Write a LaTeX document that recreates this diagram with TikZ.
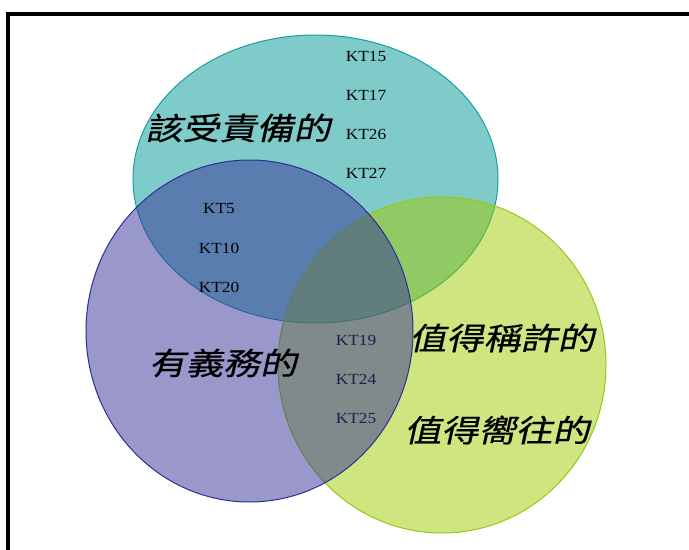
\documentclass[tikz,border=0pt]{standalone}
\usepackage{fontspec}
\setmainfont[FakeStretch=1.12]{Liberation Serif}
\newfontfamily\cjk[FakeSlant=0.22,FakeStretch=1.2,FakeBold=0.6]{Noto Sans CJK TC}
\definecolor{tealfill}{RGB}{0,151,147}
\definecolor{tealline}{RGB}{20,160,160}
\definecolor{purplefill}{RGB}{53,49,151}
\definecolor{purpleline}{RGB}{45,45,150}
\definecolor{greenfill}{RGB}{159,203,0}
\definecolor{greenline}{RGB}{150,200,20}
\definecolor{kthidden}{RGB}{30,30,75}

\begin{document}
\begin{tikzpicture}[x=1bp, y=-1bp]
	\tikzstyle{every node}=[inner sep=0pt]
	\tikzset{kt/.style={font=\fontsize{15.5}{16}\selectfont},
		word/.style={font=\cjk\fontsize{31}{32}\selectfont}}

	\useasboundingbox (0,0) rectangle (689,550);
	\clip (0,0) rectangle (689,550);

	%frame
	\draw[line width=3.5] (8,14) rectangle (720,580);

	%sets
	\draw[line width=1, tealline, fill=tealfill, fill opacity=0.5] (315.5,179) ellipse [x radius=182.5, y radius=144];
	\draw[line width=1, greenline, fill=greenfill, fill opacity=0.5] (442,365) ellipse [x radius=164, y radius=168];
	\draw[line width=1, purpleline, fill=purplefill, fill opacity=0.5] (249.5,331) ellipse [x radius=163.5, y radius=171];

	%names
	\node[word] (blame) at (238,128) {該受責備的};
	\node[word] (duty) at (223,363) {有義務的};
	\node[word] (praise) at (502,338) {值得稱許的};
	\node[word] (desire) at (497,430) {值得嚮往的};

	%items
	\foreach \k [count=\i from 0] in {15,17,26,27}
		\node[kt] (kt\k) at (366,{56+39*\i}) {KT\k};
	\foreach \k [count=\i from 0] in {5,10,20}
		\node[kt] (kt\k) at (219,{209+39*\i}) {KT\k};
	\foreach \k [count=\i from 0] in {19,24,25}
		\node[kt, kthidden] (kt\k) at (356,{340+39*\i}) {KT\k};
\end{tikzpicture}
\end{document}
